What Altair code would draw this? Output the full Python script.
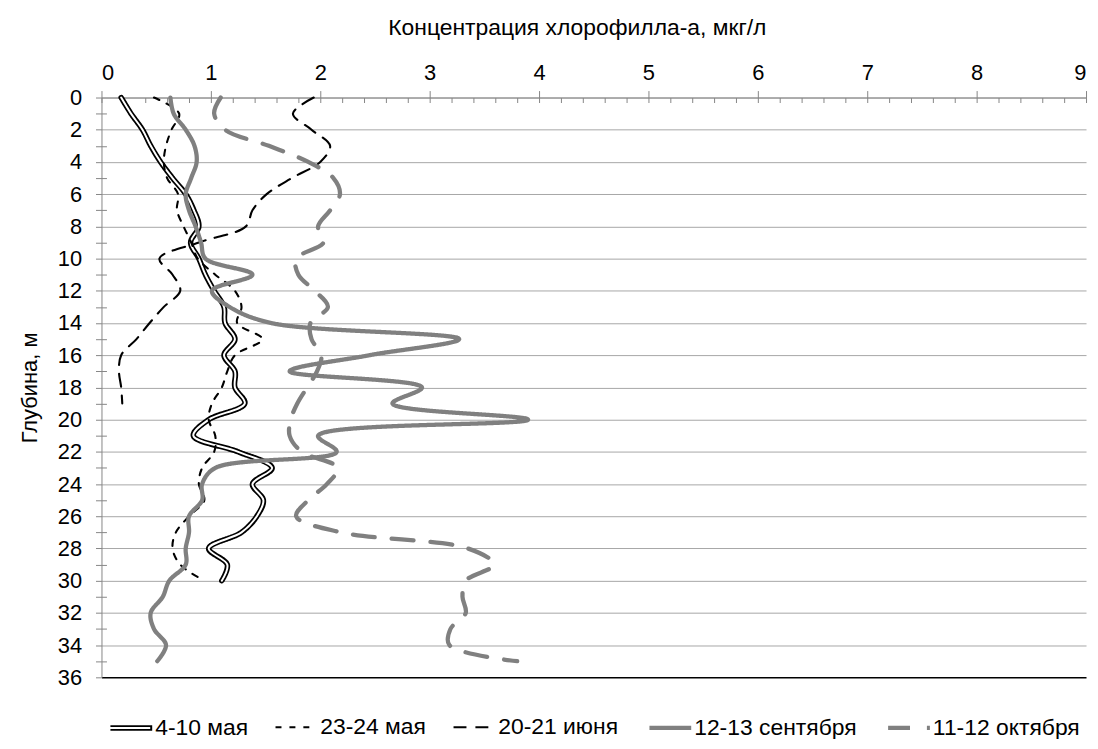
import altair as alt
import pandas as pd

FONT = "Liberation Sans"

series_names = ["4-10 мая", "23-24 мая", "20-21 июня", "12-13 сентября", "11-12 октября"]

depth_may4 = list(range(0, 31))
chl_may4 = [0.18, 0.27, 0.375, 0.45, 0.54, 0.65, 0.77, 0.845, 0.89, 0.815, 0.89,
            0.95, 1.03, 1.12, 1.13, 1.22, 1.12, 1.22, 1.22, 1.31, 0.98,
            0.84, 1.25, 1.56, 1.38, 1.48, 1.42, 1.28, 0.98, 1.15, 1.1]

depth_may23 = list(range(0, 31))
chl_may23 = [0.48, 0.71, 0.64, 0.59, 0.57, 0.6, 0.7, 0.69, 0.75, 0.82, 0.88,
             1.04, 1.22, 1.28, 1.24, 1.47, 1.22, 1.15, 1.1, 1.01, 0.98,
             1.04, 1.03, 0.92, 0.89, 0.94, 0.8, 0.68, 0.65, 0.72, 0.94]

depth_jun20 = list(range(0, 20))
chl_jun20 = [1.94, 1.75, 1.92, 2.09, 2.0, 1.74, 1.51, 1.38, 1.32, 0.89, 0.53,
             0.65, 0.72, 0.57, 0.44, 0.32, 0.18, 0.16, 0.18, 0.19]

depth_sep12 = list(range(0, 36))
chl_sep12 = [0.63, 0.66, 0.77, 0.85, 0.87, 0.82, 0.77, 0.8, 0.86, 0.91, 0.95,
             1.38, 1.01, 1.17, 1.55, 3.27, 2.45, 1.72, 2.93, 2.66, 3.9,
             1.98, 2.15, 1.04, 0.92, 0.92, 0.8, 0.8, 0.77, 0.77, 0.62,
             0.56, 0.45, 0.48, 0.59, 0.51]

depth_oct11 = list(range(0, 36))
chl_oct11 = [1.09, 1.03, 1.13, 1.53, 1.89, 2.12, 2.18, 2.09, 1.98, 2.03, 1.78,
             1.8, 1.95, 2.07, 1.91, 1.92, 2.01, 1.97, 1.88, 1.79, 1.73,
             1.72, 1.83, 2.16, 2.06, 1.89, 1.78, 2.19, 3.35, 3.59, 3.33,
             3.3, 3.33, 3.19, 3.18, 3.8]

x_ticks = list(range(0, 10))
x_minor_ticks = [round(i * 0.2, 1) for i in range(46)]
y_ticks = list(range(0, 37, 2))
y_minor_ticks = list(range(1, 36, 2))

all_depths = [depth_may4, depth_may23, depth_jun20, depth_sep12, depth_oct11]
all_values = [chl_may4, chl_may23, chl_jun20, chl_sep12, chl_oct11]

rows = []
for name, ds, vs in zip(series_names, all_depths, all_values):
    for d, v in zip(ds, vs):
        rows.append({"series": name, "depth": d, "value": v})
df = pd.DataFrame(rows)
df_first = df[df["series"] == series_names[0]]
df_rest = df[df["series"] != series_names[0]]

AXIS_GREY = "#868686"
GRID_GREY = "#a6a6a6"

x_scale = alt.Scale(domain=[0, 9], nice=False, zero=False)
y_scale = alt.Scale(domain=[0, 36], reverse=True, nice=False, zero=False)

color_scale = alt.Scale(domain=series_names,
                        range=["#000000", "#000000", "#000000", "#808080", "#808080"])
dash_scale = alt.Scale(domain=series_names,
                       range=[[1, 0], [6, 8], [13, 9], [1, 0], [22, 17]])
width_scale = alt.Scale(type="ordinal", domain=series_names, range=[5.5, 2.1, 2.1, 4.3, 4.3])

LEG_X = 6
LEG_Y = 610

legend_a = alt.Legend(title=None, orient="none", legendX=LEG_X, legendY=LEG_Y,
                      direction="horizontal", columns=5, symbolType="stroke",
                      symbolSize=1764, labelFontSize=23, labelFont=FONT,
                      labelColor="black", labelOffset=0, columnPadding=22,
                      padding=0, labelLimit=400, zindex=0)
# the inner white stroke entry is 4 px shorter (thinner stroke), so it sits 2 px lower
legend_b = alt.Legend(title=None, orient="none", legendX=LEG_X, legendY=LEG_Y + 2,
                      direction="horizontal", symbolType="stroke",
                      symbolSize=1764, symbolStrokeWidth=2,
                      labelFontSize=23, labelFont=FONT, labelOffset=0,
                      labelExpr="''", labelOpacity=0, padding=0, zindex=2)

x_axis_main = alt.Axis(orient="top", values=x_ticks, grid=False,
                       title="Концентрация хлорофилла-а, мкг/л",
                       titleFontSize=23, titleFontWeight="normal", titleFont=FONT,
                       titleColor="black", titlePadding=22, titleX=478,
                       labelFontSize=22, labelFont=FONT, labelColor="black",
                       labelPadding=6, tickSize=7, tickColor=AXIS_GREY,
                       domainColor=AXIS_GREY)
y_axis_main = alt.Axis(orient="left", values=y_ticks, grid=True,
                       gridColor={"condition": {"test": "datum.value === 36", "value": "#000000"},
                                  "value": GRID_GREY},
                       gridWidth={"condition": {"test": "datum.value === 36", "value": 1.6},
                                  "value": 1},
                       title="Глубина, м", titleFontSize=22, titleFontWeight="normal",
                       titleFont=FONT, titleColor="black", titlePadding=16,
                       labelFontSize=22, labelFont=FONT, labelColor="black",
                       labelPadding=14, tickSize=6, tickColor=AXIS_GREY,
                       domainColor=AXIS_GREY)
x_axis_minor = alt.Axis(orient="top", values=x_minor_ticks, grid=False, labels=False,
                        domain=False, title=None, tickSize=5, offset=-5,
                        tickColor=AXIS_GREY)
y_axis_minor = alt.Axis(orient="left", values=y_minor_ticks, grid=False, labels=False,
                        domain=False, title=None, tickSize=11, offset=-5,
                        tickColor=AXIS_GREY)

line_mark = dict(interpolate="catmull-rom", strokeCap="round", strokeJoin="round")

layer_first = alt.Chart(df_first).mark_line(**line_mark).encode(
    x=alt.X("value:Q", scale=x_scale, axis=x_axis_main),
    y=alt.Y("depth:Q", scale=y_scale, axis=y_axis_main),
    order=alt.Order("depth:Q"),
    color=alt.Color("series:N", scale=color_scale, legend=legend_a),
    strokeDash=alt.StrokeDash("series:N", scale=dash_scale),
    strokeWidth=alt.StrokeWidth("series:N", scale=width_scale),
)

layer_inner = alt.Chart(df_first).mark_line(strokeWidth=2, **line_mark).encode(
    x=alt.X("value:Q", scale=x_scale, axis=x_axis_minor),
    y=alt.Y("depth:Q", scale=y_scale, axis=y_axis_minor),
    order=alt.Order("depth:Q"),
    stroke=alt.Stroke("series:N",
                      scale=alt.Scale(domain=[series_names[0]], range=["#ffffff"]),
                      legend=legend_b),
)

layer_rest = alt.Chart(df_rest).mark_line(**line_mark).encode(
    x=alt.X("value:Q", scale=x_scale, axis=None),
    y=alt.Y("depth:Q", scale=y_scale, axis=None),
    order=alt.Order("depth:Q"),
    color=alt.Color("series:N", scale=color_scale, legend=legend_a),
    strokeDash=alt.StrokeDash("series:N", scale=dash_scale),
    strokeWidth=alt.StrokeWidth("series:N", scale=width_scale),
)

chart = alt.layer(layer_first, layer_inner, layer_rest).resolve_axis(
    x="independent", y="independent"
).properties(
    width=990, height=583,
    autosize=alt.AutoSizeParams(type="none"),
    padding={"left": 94, "top": 88, "right": 4, "bottom": 60},
).configure(font=FONT).configure_view(stroke=None)

chart.save("out.html", embed_options={"renderer": "svg", "actions": False})
